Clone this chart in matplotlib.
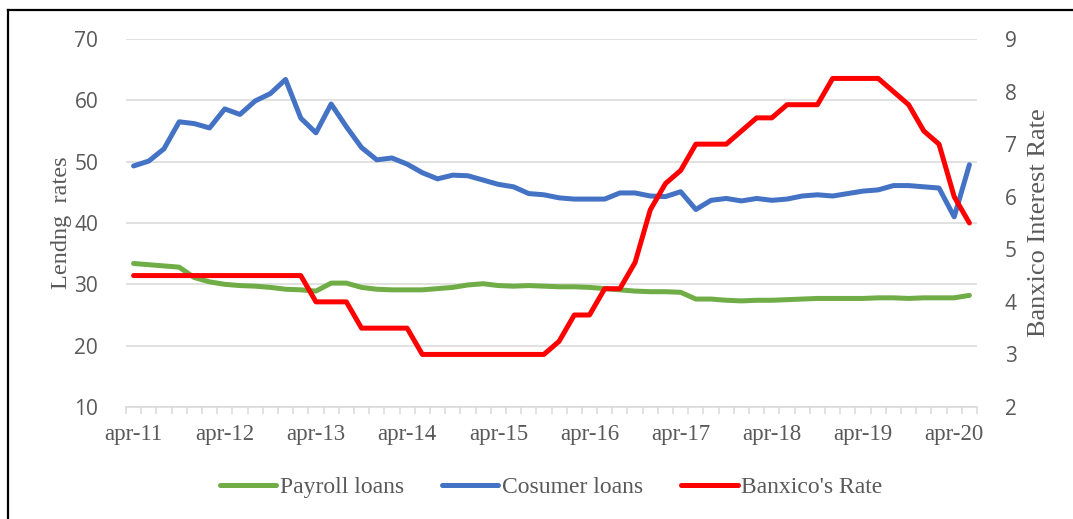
import matplotlib
matplotlib.use("Agg")
import matplotlib.pyplot as plt
from matplotlib.lines import Line2D

# Bi-monthly observations, apr-11 .. jun-20
tick_labels = ["apr-11", "apr-12", "apr-13", "apr-14", "apr-15",
               "apr-16", "apr-17", "apr-18", "apr-19", "apr-20"]

payroll = [33.4, 33.2, 33.0, 32.8, 31.1, 30.4, 30.0, 29.8, 29.7, 29.5,
           29.2, 29.1, 28.9, 30.2, 30.2, 29.5, 29.2, 29.1, 29.1, 29.1,
           29.3, 29.5, 29.9, 30.1, 29.8, 29.7, 29.8, 29.7, 29.6, 29.6,
           29.5, 29.3, 29.1, 28.9, 28.8, 28.8, 28.7, 27.6, 27.6, 27.4,
           27.3, 27.4, 27.4, 27.5, 27.6, 27.7, 27.7, 27.7, 27.7, 27.8,
           27.8, 27.7, 27.8, 27.8, 27.8, 28.2]

consumer = [49.3, 50.1, 52.1, 56.5, 56.2, 55.5, 58.6, 57.7, 59.9, 61.1,
            63.4, 57.1, 54.7, 59.4, 55.7, 52.3, 50.3, 50.6, 49.6, 48.2,
            47.2, 47.8, 47.7, 47.0, 46.3, 45.9, 44.8, 44.6, 44.1, 43.9,
            43.9, 43.9, 44.9, 44.9, 44.4, 44.3, 45.1, 42.2, 43.7, 44.0,
            43.6, 44.0, 43.7, 43.9, 44.4, 44.6, 44.4, 44.8, 45.2, 45.4,
            46.1, 46.1, 45.9, 45.7, 41.0, 49.5]

banxico = [4.5, 4.5, 4.5, 4.5, 4.5, 4.5, 4.5, 4.5, 4.5, 4.5,
           4.5, 4.5, 4.0, 4.0, 4.0, 3.5, 3.5, 3.5, 3.5, 3.0,
           3.0, 3.0, 3.0, 3.0, 3.0, 3.0, 3.0, 3.0, 3.25, 3.75,
           3.75, 4.25, 4.25, 4.75, 5.75, 6.25, 6.5, 7.0, 7.0, 7.0,
           7.25, 7.5, 7.5, 7.75, 7.75, 7.75, 8.25, 8.25, 8.25, 8.25,
           8.0, 7.75, 7.25, 7.0, 6.0, 5.5]

GREEN = "#70AD47"
BLUE = "#4472C4"
RED = "#FF0000"
GRID = "#D9D9D9"
TXT = "#595959"
SERIF = "Liberation Serif"
SANS = "Open Sans"

fig = plt.figure(figsize=(10.73, 5.19), dpi=100)
ax = fig.add_axes([126/1073, 1-407/519, (977-126)/1073, (407-39)/519])
ax2 = ax.twinx()

x = list(range(len(consumer)))
lw = 3.6
ax.plot(x, payroll, color=GREEN, lw=lw, solid_joinstyle="round", solid_capstyle="round", zorder=3)
ax.plot(x, consumer, color=BLUE, lw=lw, solid_joinstyle="round", solid_capstyle="round", zorder=3)
ax2.plot(x, banxico, color=RED, lw=lw, solid_joinstyle="round", solid_capstyle="round", zorder=3)

n = len(consumer)
ax.set_xlim(-0.5, n - 0.5)
ax.set_ylim(10, 70)
ax2.set_ylim(2, 9)
ax.set_yticks(range(10, 71, 10))
ax2.set_yticks(range(2, 10))

ax.grid(axis="y", color=GRID, lw=1.1, zorder=0)
ax.set_axisbelow(True)

for a in (ax, ax2):
    for s in a.spines.values():
        s.set_visible(False)
ax.spines["bottom"].set_visible(True)
ax.spines["bottom"].set_color(GRID)
ax.spines["bottom"].set_linewidth(1.1)

label_pos = [i * 6 for i in range(len(tick_labels))]
ax.set_xticks(label_pos)
ax.set_xticklabels(tick_labels, fontfamily=SERIF, fontsize=16.5, color=TXT)
ax.tick_params(axis="x", which="major", length=0, pad=12)
ax.set_xticks([i - 0.5 for i in range(n + 1)], minor=True)
ax.tick_params(axis="x", which="minor", length=5, color=GRID, width=1.1, direction="out")

ax.tick_params(axis="y", length=0, pad=20, labelsize=15, labelcolor=TXT)
ax2.tick_params(axis="y", length=0, pad=20, labelsize=15, labelcolor=TXT)
for lab in ax.get_yticklabels() + ax2.get_yticklabels():
    lab.set_fontfamily(SANS)

ax.set_ylabel("Lendng  rates", fontfamily=SERIF, fontsize=17.5, color=TXT, labelpad=2)
ax2.set_ylabel("Banxico Interest Rate", fontfamily=SERIF, fontsize=19, color=TXT, labelpad=8)

handles = [Line2D([], [], color=GREEN, lw=lw, solid_capstyle="round"),
           Line2D([], [], color=BLUE, lw=lw, solid_capstyle="round"),
           Line2D([], [], color=RED, lw=lw, solid_capstyle="round")]
leg = fig.legend(handles, ["Payroll loans", "Cosumer loans", "Banxico's Rate"],
                 loc="center", bbox_to_anchor=(551/1073, 1-487/519), ncol=3,
                 frameon=False, handlelength=2.4, handletextpad=0.15, columnspacing=1.6,
                 prop={"family": SERIF, "size": 17})
for t in leg.get_texts():
    t.set_color(TXT)

# Border (left and top edges visible)
fig.add_artist(Line2D([8/1073, 8/1073], [0, 1-10/519], color="black", lw=1.6, transform=fig.transFigure))
fig.add_artist(Line2D([8/1073, 1], [1-10/519, 1-10/519], color="black", lw=1.6, transform=fig.transFigure))

fig.savefig("out.png", dpi=100)
